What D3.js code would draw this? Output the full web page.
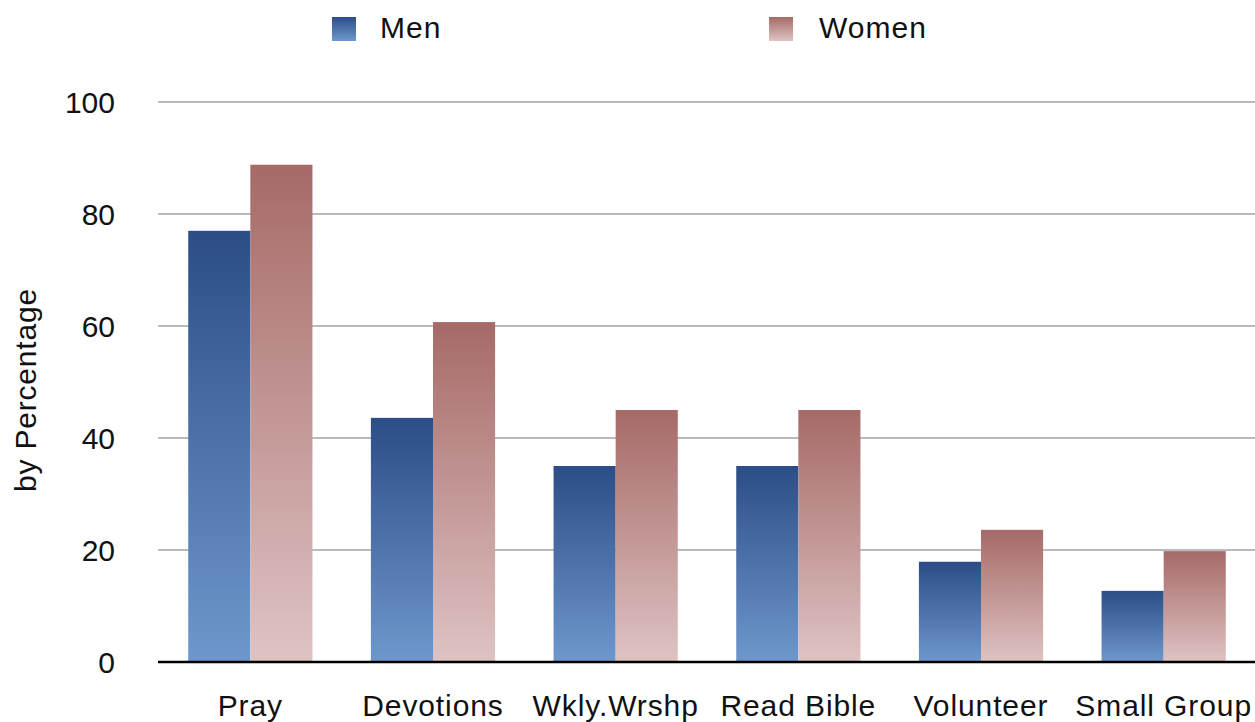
<!DOCTYPE html>
<html>
<head>
<meta charset="utf-8">
<script src="https://cdn.jsdelivr.net/npm/d3@7"></script>
<style>
  body { margin: 0; background: #fff; }
  svg { display: block; font-family: "Liberation Sans", Arial, Helvetica, sans-serif; }
</style>
</head>
<body>
<div id="chart"></div>
<script>
// categories and values
const categories = ['Pray', 'Devotions', 'Wkly.Wrshp', 'Read Bible', 'Volunteer', 'Small Group'];
const seriesNames = ['Men', 'Women'];
const men = [77, 43.6, 35, 35, 17.9, 12.7];
const women = [88.8, 60.7, 45, 45, 23.6, 19.8];
const yTicks = [0, 20, 40, 60, 80, 100];

const width = 1255, height = 722;
const margin = {top: 102, right: 0, bottom: 60, left: 158};

const svg = d3.select('#chart').append('svg')
  .attr('width', width)
  .attr('height', height);

// gradients, dark at the top of each bar
const defs = svg.append('defs');
const grads = [
  {id: 'gMen', top: '#2c4d86', bottom: '#6e98cd'},
  {id: 'gWomen', top: '#a66a67', bottom: '#dec3c3'}
];
grads.forEach(g => {
  const lg = defs.append('linearGradient').attr('id', g.id)
    .attr('x1', 0).attr('y1', 0).attr('x2', 0).attr('y2', 1);
  lg.append('stop').attr('offset', '0%').attr('stop-color', g.top);
  lg.append('stop').attr('offset', '100%').attr('stop-color', g.bottom);
});

const x = d3.scaleBand()
  .domain(categories)
  .range([159, width])
  .paddingInner(0.32)
  .paddingOuter(0.16);

const xs = d3.scaleBand()
  .domain(seriesNames)
  .range([0, x.bandwidth()]);

const y = d3.scaleLinear()
  .domain([0, 100])
  .range([height - margin.bottom, margin.top]);

// gridlines
svg.append('g').selectAll('line')
  .data(yTicks.filter(d => d > 0))
  .enter().append('line')
  .attr('x1', margin.left).attr('x2', width)
  .attr('y1', d => y(d)).attr('y2', d => y(d))
  .attr('stroke', '#bababa')
  .attr('stroke-width', 2);

// y tick labels
svg.append('g').selectAll('text')
  .data(yTicks)
  .enter().append('text')
  .attr('x', 115)
  .attr('y', d => y(d))
  .attr('dy', '0.36em')
  .attr('text-anchor', 'end')
  .attr('font-size', 30)
  .attr('fill', '#111')
  .text(d => d);

// bars
const rows = categories.map((c, i) => ({cat: c, values: [men[i], women[i]]}));
const groups = svg.append('g').selectAll('g')
  .data(rows)
  .enter().append('g')
  .attr('transform', d => 'translate(' + x(d.cat) + ',0)');

groups.selectAll('rect')
  .data(d => d.values.map((v, j) => ({name: seriesNames[j], value: v})))
  .enter().append('rect')
  .attr('x', d => xs(d.name))
  .attr('y', d => y(d.value))
  .attr('width', xs.bandwidth())
  .attr('height', d => y(0) - y(d.value))
  .attr('fill', d => d.name === 'Men' ? 'url(#gMen)' : 'url(#gWomen)');

// x axis line
svg.append('line')
  .attr('x1', margin.left).attr('x2', width)
  .attr('y1', y(0)).attr('y2', y(0))
  .attr('stroke', '#000')
  .attr('stroke-width', 2.5);

// category labels
svg.append('g').selectAll('text')
  .data(categories)
  .enter().append('text')
  .attr('x', d => x(d) + x.bandwidth() / 2)
  .attr('y', 716)
  .attr('text-anchor', 'middle')
  .attr('font-size', 30)
  .attr('letter-spacing', 0.9)
  .attr('fill', '#111')
  .text(d => d);

// y axis title
svg.append('text')
  .attr('transform', 'translate(36,390) rotate(-90)')
  .attr('text-anchor', 'middle')
  .attr('font-size', 30)
  .attr('letter-spacing', 0.8)
  .attr('fill', '#111')
  .text('by Percentage');

// legend
const legendX = [332, 769];
const legend = svg.append('g').selectAll('g')
  .data(seriesNames)
  .enter().append('g')
  .attr('transform', (d, i) => 'translate(' + legendX[i] + ',17)');

legend.append('rect')
  .attr('width', 24).attr('height', 24)
  .attr('fill', (d, i) => 'url(#' + grads[i].id + ')');

legend.append('text')
  .attr('x', (d, i) => i === 0 ? 48 : 50)
  .attr('y', 21)
  .attr('font-size', 30)
  .attr('letter-spacing', 1)
  .attr('fill', '#111')
  .text(d => d);
</script>
</body>
</html>
